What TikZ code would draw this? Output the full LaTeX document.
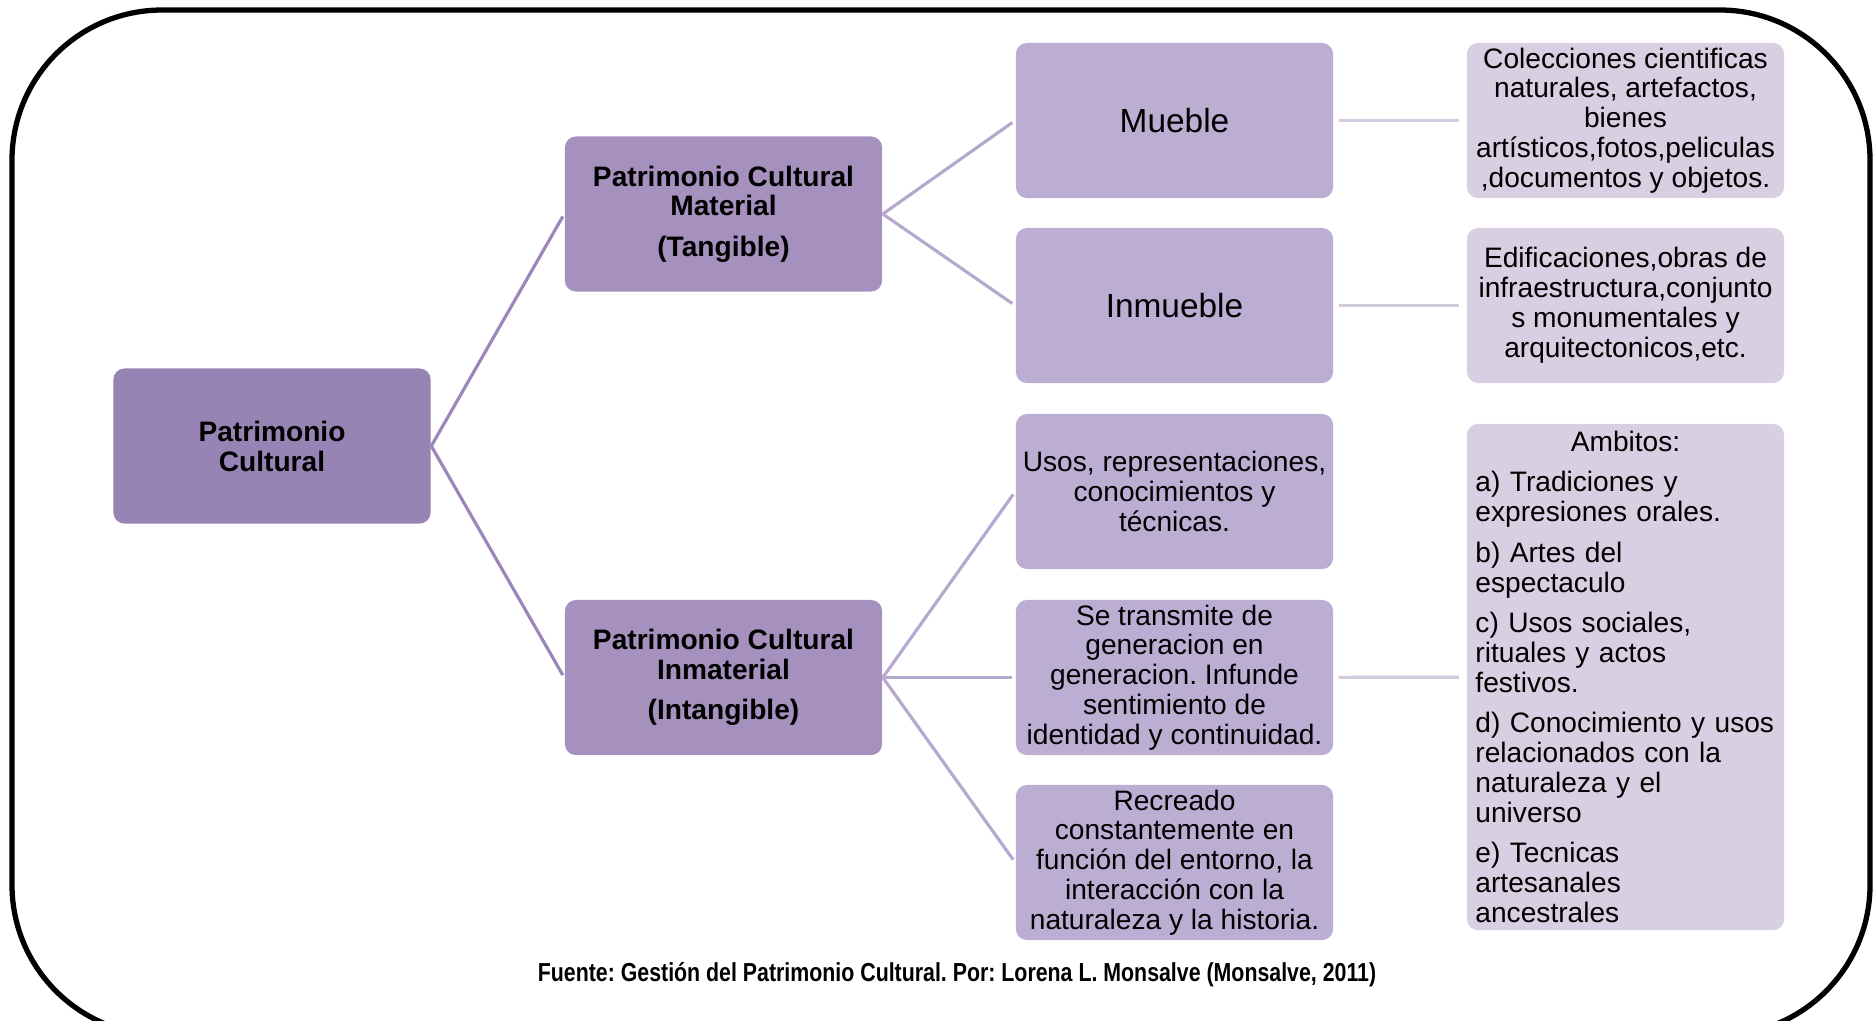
\documentclass[tikz,border=0pt]{standalone}
\usepackage{fontspec}
\setsansfont{Liberation Sans}
\newfontfamily\narrowsans[FakeStretch=0.82]{Liberation Sans}
\definecolor{rootPurple}{HTML}{9784B4}
\definecolor{midPurple}{HTML}{A590BE}
\definecolor{lightPurple}{HTML}{BBAED2}
\definecolor{palePurple}{HTML}{D8CFE3}
\definecolor{lineDark}{HTML}{9A87B7}
\definecolor{lineMid}{HTML}{B6A9CE}
\definecolor{lineLight}{HTML}{D3CAE0}
\frenchspacing

\begin{document}
\begin{tikzpicture}[x = 0.01cm, y = -0.01cm, font=\sffamily]
	\useasboundingbox (0,0) rectangle (1874,1020);
	\tikzstyle{boxStyle} = [rounded corners = 0.11cm, minimum width = 3.17cm, minimum height = 1.55cm, inner xsep = 1pt, inner ysep = 1pt, align = center, font = \fontsize{8}{8.5}\selectfont\sffamily]
	\tikzstyle{rootStyle} = [boxStyle, fill = rootPurple, font = \fontsize{8}{8.5}\selectfont\sffamily\bfseries]
	\tikzstyle{branchStyle} = [boxStyle, fill = midPurple, font = \fontsize{8}{8.5}\selectfont\sffamily\bfseries]
	\tikzstyle{leafStyle} = [boxStyle, fill = lightPurple]
	\tikzstyle{bigLeafStyle} = [leafStyle, font = \fontsize{9.5}{11}\selectfont\sffamily]
	\tikzstyle{noteStyle} = [boxStyle, fill = palePurple]
	\tikzstyle{rootEdge} = [draw = lineDark, line width = 0.9pt, shorten > = 0.8pt]
	\tikzstyle{midEdge} = [draw = lineMid, line width = 0.9pt, shorten > = 1pt]
	\tikzstyle{leafEdge} = [draw = lineLight, line width = 0.9pt, shorten < = 1.4pt, shorten > = 2pt]
	\draw[line width = 1.5pt, rounded corners = 1.5cm] (12,10) rectangle (1870,1035);
	\node[rootStyle] (pc) at (272,446) {Patrimonio\\Cultural};
	\node[branchStyle] (pcMat) at (723.5,214) {Patrimonio Cultural\\Material\\[3pt](Tangible)};
	\node[branchStyle] (pcInm) at (723.5,677.5) {Patrimonio Cultural\\Inmaterial\\[3pt](Intangible)};
	\node[bigLeafStyle] (mueble) at (1174.5,120.5) {Mueble};
	\node[bigLeafStyle] (inmueble) at (1174.5,305.5) {Inmueble};
	\node[leafStyle] (usos) at (1174.5,491.5) {Usos, representaciones,\\conocimientos y\\técnicas.};
	\node[leafStyle] (transmite) at (1174.5,677.5) {Se transmite de\\generacion en\\generacion. Infunde\\sentimiento de\\identidad y continuidad.};
	\node[leafStyle] (recreado) at (1174.5,862.5) {Recreado\\constantemente en\\función del entorno, la\\interacción con la\\naturaleza y la historia.};
	\node[noteStyle] (colecciones) at (1625.5,120.5) {Colecciones cientificas\\naturales, artefactos,\\bienes\\artísticos,fotos,peliculas\\,documentos y objetos.};
	\node[noteStyle] (edificaciones) at (1625.5,305.5) {Edificaciones,obras de\\infraestructura,conjunto\\s monumentales y\\arquitectonicos,etc.};
	\node[noteStyle, minimum height = 5.06cm, text width = 3.0cm, inner xsep = 0.085cm, align = left] (ambitos) at (1625.5,677) {\hfill Ambitos:\hfill\null\\[3pt]
		a) Tradiciones y\\expresiones orales.\\[3pt]
		b) Artes del\\espectaculo\\[3pt]
		c) Usos sociales,\\rituales y actos\\festivos.\\[3pt]
		d) Conocimiento y usos\\relacionados con la\\naturaleza y el\\universo\\[3pt]
		e) Tecnicas\\artesanales\\ancestrales};
	\node[font = \fontsize{7.4}{9}\selectfont\narrowsans\bfseries] (fuente) at (957,975) {Fuente: Gestión del Patrimonio Cultural. Por: Lorena L. Monsalve (Monsalve, 2011)};
	\draw[rootEdge] (pc.east) -- (pcMat.west);
	\draw[rootEdge] (pc.east) -- (pcInm.west);
	\draw[midEdge] (pcMat.east) -- (mueble.west);
	\draw[midEdge] (pcMat.east) -- (inmueble.west);
	\draw[midEdge] (pcInm.east) -- (usos.west);
	\draw[midEdge] (pcInm.east) -- (transmite.west);
	\draw[midEdge] (pcInm.east) -- (recreado.west);
	\draw[leafEdge] (mueble) -- (colecciones);
	\draw[leafEdge] (inmueble) -- (edificaciones);
	\draw[leafEdge] (transmite) -- (ambitos);
\end{tikzpicture}
\end{document}
